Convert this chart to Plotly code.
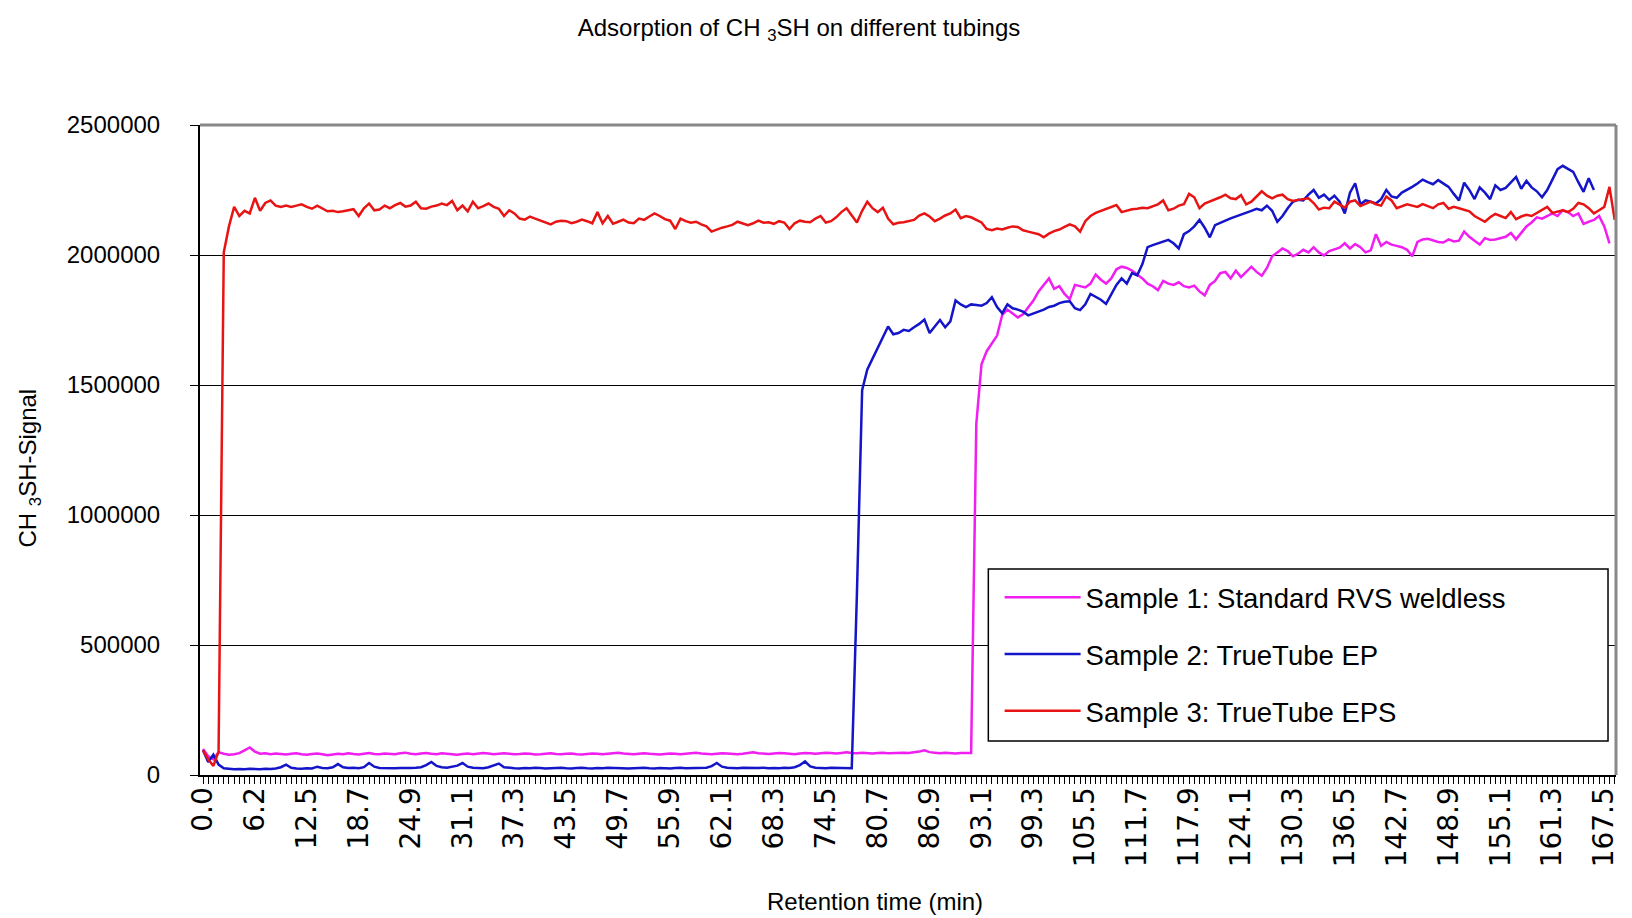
import numpy as np
import plotly.graph_objects as go

# Sampling interval of the GC trace (min): 270 intervals span 0.0 - 167.5 min
STEP = 167.5 / 270

tick_labels = ["0.0", "6.2", "12.5", "18.7", "24.9", "31.1", "37.3", "43.5", "49.7",
               "55.9", "62.1", "68.3", "74.5", "80.7", "86.9", "93.1", "99.3", "105.5",
               "111.7", "117.9", "124.1", "130.3", "136.5", "142.7", "148.9", "155.1",
               "161.3", "167.5"]

# CH3SH signal, in thousands of counts, one value per sample
sample1_k = [
    100, 72, 60, 88, 82, 78, 80, 84, 95, 106,
    90, 82, 84, 80, 83, 81, 79, 82, 84, 80,
    78, 81, 83, 80, 76, 79, 82, 80, 84, 81,
    79, 82, 85, 81, 80, 83, 82, 80, 84, 86,
    82, 80, 83, 85, 82, 80, 84, 82, 80, 78,
    81, 83, 80, 82, 85, 83, 80, 82, 84, 82,
    80, 81, 83, 82, 79, 80, 82, 84, 81, 80,
    82, 83, 80, 79, 81, 83, 82, 80, 82, 84,
    86, 83, 81, 80, 82, 84, 82, 80, 79, 81,
    83, 82, 80, 82, 84, 86, 83, 81, 80, 82,
    84, 83, 81, 80, 82, 85, 87, 84, 82, 81,
    83, 85, 84, 82, 80, 83, 85, 84, 82, 84,
    86, 85, 83, 85, 87, 85, 84, 86, 85, 83,
    85, 86, 84, 85, 87, 86, 85, 87, 90, 95,
    88, 86, 84, 86, 85, 83, 85, 86, 85, 1350,
    1580, 1630, 1660, 1690, 1770, 1790, 1775, 1760, 1772, 1800,
    1825, 1860, 1885, 1910, 1870, 1880, 1850, 1830, 1885, 1880,
    1875, 1890, 1925, 1905, 1890, 1910, 1945, 1955, 1950, 1940,
    1925, 1910, 1890, 1880, 1865, 1900, 1890, 1885, 1895, 1880,
    1875, 1882, 1860, 1845, 1885, 1900, 1930, 1935, 1910, 1940,
    1915, 1935, 1955, 1935, 1920, 1950, 1995, 2010, 2025, 2015,
    1995, 2005, 2020, 2010, 2030, 2010, 1998, 2015, 2022, 2028,
    2045, 2025, 2042, 2030, 2010, 2018, 2080, 2035, 2050, 2040,
    2035, 2030, 2020, 1995, 2050, 2060, 2062, 2055, 2050, 2048,
    2060, 2052, 2055, 2090, 2070, 2055, 2040, 2065, 2058, 2060,
    2065, 2070, 2085, 2060, 2085, 2110, 2125, 2145, 2140, 2150,
    2160, 2150, 2172, 2165, 2150, 2160, 2120, 2128, 2135, 2150,
    2110, 2045,
]

sample2_k = [
    95, 50, 78, 40, 26, 24, 22, 23, 22, 24,
    23, 22, 24, 23, 25, 30, 40, 28, 25, 24,
    26, 25, 32, 27, 26, 30, 42, 30, 27, 28,
    26, 30, 46, 32, 27, 26, 25, 26, 27, 26,
    27, 28, 30, 38, 50, 35, 30, 28, 32, 36,
    46, 32, 28, 27, 26, 30, 36, 44, 30, 27,
    26, 25, 27, 26, 28, 27, 25, 26, 27, 28,
    26, 25, 27, 28, 26, 25, 27, 26, 28, 27,
    26, 27, 25, 26, 27, 28, 26, 25, 27, 26,
    25, 27, 28, 26, 27, 26, 27, 28, 34, 46,
    32, 28, 27, 26, 28, 27, 26, 27, 28, 26,
    27, 26, 28, 27, 30, 38, 52, 33, 28, 27,
    26, 28, 27, 26, 27, 26, 700, 1480, 1560, 1600,
    1640, 1680, 1725, 1695, 1700, 1712, 1708, 1722, 1735, 1752,
    1700, 1725, 1750, 1722, 1745, 1825, 1810, 1800, 1810, 1808,
    1805, 1815, 1838, 1800, 1776, 1810, 1795, 1790, 1782, 1768,
    1775, 1780, 1790, 1800, 1805, 1815, 1820, 1822, 1795, 1788,
    1810, 1850, 1840, 1828, 1812, 1850, 1885, 1910, 1890, 1930,
    1922, 1965, 2030, 2038, 2045, 2052, 2058, 2045, 2025, 2080,
    2092, 2110, 2135, 2105, 2068, 2115, 2125, 2132, 2141, 2148,
    2155, 2160, 2170, 2178, 2172, 2190, 2170, 2128, 2150, 2180,
    2205, 2212, 2210, 2232, 2250, 2220, 2232, 2212, 2228, 2205,
    2160, 2240, 2276, 2195, 2210, 2205, 2198, 2215, 2250, 2225,
    2220, 2240, 2250, 2262, 2275, 2290, 2280, 2272, 2288, 2275,
    2262, 2235, 2210, 2278, 2250, 2215, 2260, 2240, 2215, 2268,
    2250, 2258, 2280, 2300, 2255, 2285, 2260, 2245, 2222, 2250,
    2290, 2330, 2343, 2330, 2320, 2280, 2243, 2295, 2250,
]

sample3_k = [
    95, 60, 35, 90, 2010, 2110, 2185, 2150, 2170, 2160,
    2220, 2170, 2200, 2210, 2190, 2185, 2190, 2185, 2190, 2195,
    2185, 2178, 2190, 2180, 2168, 2170, 2165, 2168, 2172, 2176,
    2150, 2180, 2198, 2172, 2175, 2190, 2180, 2192, 2200, 2186,
    2190, 2205, 2180, 2178, 2186, 2190, 2198, 2192, 2208, 2172,
    2190, 2168, 2205, 2180, 2188, 2198, 2185, 2178, 2150, 2172,
    2160, 2140, 2136, 2148, 2140, 2132, 2125, 2118, 2128, 2132,
    2130, 2122, 2128, 2136, 2130, 2122, 2165, 2122, 2150, 2120,
    2128, 2136, 2125, 2122, 2140, 2135, 2148, 2160, 2150, 2138,
    2132, 2100, 2140, 2130, 2124, 2128, 2118, 2110, 2090, 2098,
    2105, 2110, 2116, 2128, 2122, 2115, 2122, 2132, 2124, 2126,
    2120, 2130, 2125, 2100, 2122, 2132, 2128, 2126, 2140, 2150,
    2125, 2130, 2145, 2165, 2180, 2150, 2125, 2170, 2205, 2180,
    2165, 2182, 2140, 2118, 2124, 2126, 2130, 2135, 2152, 2160,
    2148, 2130, 2140, 2152, 2160, 2175, 2142, 2150, 2145, 2135,
    2125, 2100, 2095, 2102, 2098, 2105, 2110, 2108, 2095, 2090,
    2085, 2080, 2068, 2082, 2092, 2098, 2108, 2118, 2110, 2090,
    2130, 2150, 2162, 2170, 2176, 2185, 2192, 2165, 2170, 2176,
    2178, 2182, 2180, 2186, 2195, 2210, 2172, 2178, 2190, 2195,
    2235, 2222, 2180, 2198, 2205, 2212, 2222, 2232, 2218, 2215,
    2230, 2195, 2205, 2225, 2245, 2228, 2218, 2228, 2232, 2215,
    2208, 2212, 2215, 2218, 2200, 2175, 2182, 2180, 2205, 2195,
    2182, 2205, 2210, 2188, 2196, 2205, 2195, 2190, 2225, 2210,
    2180, 2188, 2195, 2190, 2185, 2196, 2188, 2180, 2195, 2200,
    2178, 2185, 2180, 2175, 2168, 2150, 2140, 2128, 2145, 2158,
    2150, 2142, 2165, 2138, 2148, 2155, 2150, 2162, 2175, 2185,
    2162, 2168, 2172, 2165, 2178, 2200, 2195, 2180, 2160, 2172,
    2185, 2262, 2135,
]

series = [
    ("Sample 1: Standard RVS weldless", sample1_k, "#F01EF0"),
    ("Sample 2: TrueTube EP", sample2_k, "#1414C8"),
    ("Sample 3: TrueTube EPS", sample3_k, "#E81414"),
]

ARIAL = "Liberation Sans, Arial, sans-serif"

fig = go.Figure()
for i, (name, vals, color) in enumerate(series):
    t = np.arange(len(vals)) * STEP
    fig.add_trace(go.Scatter(
        x=t, y=np.array(vals) * 1000, mode="lines", name=name,
        legendgroup=f"g{i}",
        line=dict(color=color, width=2.5),
    ))

label_pos = np.arange(len(tick_labels)) * 10 * STEP

fig.update_layout(
    width=1632, height=918,
    margin=dict(l=200, r=13, t=125, b=143),
    paper_bgcolor="white", plot_bgcolor="white",
    showlegend=True,
    title=dict(text="Adsorption of CH <sub>3</sub>SH on different tubings",
               x=799 / 1632, xanchor="center", y=1 - 28 / 918, yanchor="middle",
               font=dict(family=ARIAL, size=24, color="black")),
    legend=dict(x=0.5567 + 0.008, y=0.3169 - 0.006, xanchor="left", yanchor="top",
                bgcolor="rgba(0,0,0,0)", borderwidth=0,
                font=dict(family=ARIAL, size=27.5, color="black"),
                itemwidth=76, tracegroupgap=18, traceorder="grouped"),
    xaxis=dict(
        range=[-0.36, 168.9], showgrid=False, zeroline=False,
        showline=True, linecolor="black", linewidth=2,
        tickmode="array", tickvals=label_pos, ticktext=tick_labels,
        tickangle=-90, ticks="outside", ticklen=7, tickcolor="black", tickwidth=1,
        ticklabelstandoff=-8,
        tickfont=dict(family="DejaVu Sans", size=28, color="black"),
        minor=dict(dtick=STEP, tick0=0, ticks="outside", ticklen=7,
                   tickcolor="black", tickwidth=1, showgrid=False),
    ),
    yaxis=dict(
        range=[0, 2500000], tickmode="linear", tick0=0, dtick=500000,
        tickformat="d", showgrid=True, gridcolor="black", gridwidth=1,
        zeroline=False, showline=True, linecolor="black", linewidth=2,
        ticks="outside", ticklen=8, tickcolor="black",
        ticklabelstandoff=25,
        tickfont=dict(family=ARIAL, size=24, color="black"),
    ),
    annotations=[
        dict(text="Retention time (min)", xref="paper", yref="paper",
             x=(876 - 200) / 1419, y=(775 - 901) / 650, xanchor="center", yanchor="middle",
             showarrow=False, font=dict(family=ARIAL, size=24, color="black")),
        dict(text="CH <sub>3</sub>SH-Signal", xref="paper", yref="paper",
             x=(29 - 200) / 1419, y=0.472, xanchor="center", yanchor="middle", textangle=-90,
             showarrow=False, font=dict(family=ARIAL, size=24, color="black")),
    ],
    shapes=[
        # grey frame on the top and right of the plot area
        dict(type="line", xref="paper", yref="paper", x0=0, x1=1, y0=1, y1=1,
             line=dict(color="#888888", width=3), layer="above"),
        dict(type="line", xref="paper", yref="paper", x0=1, x1=1, y0=0, y1=1,
             line=dict(color="#888888", width=3), layer="above"),
        # legend box
        dict(type="rect", xref="paper", yref="paper",
             x0=(990 - 200) / 1419, x1=(1611 - 200) / 1419,
             y0=(775 - 741) / 650, y1=(775 - 569) / 650,
             fillcolor="white", line=dict(color="black", width=1.5), layer="above"),
    ],
)

fig.write_html("out.html")
